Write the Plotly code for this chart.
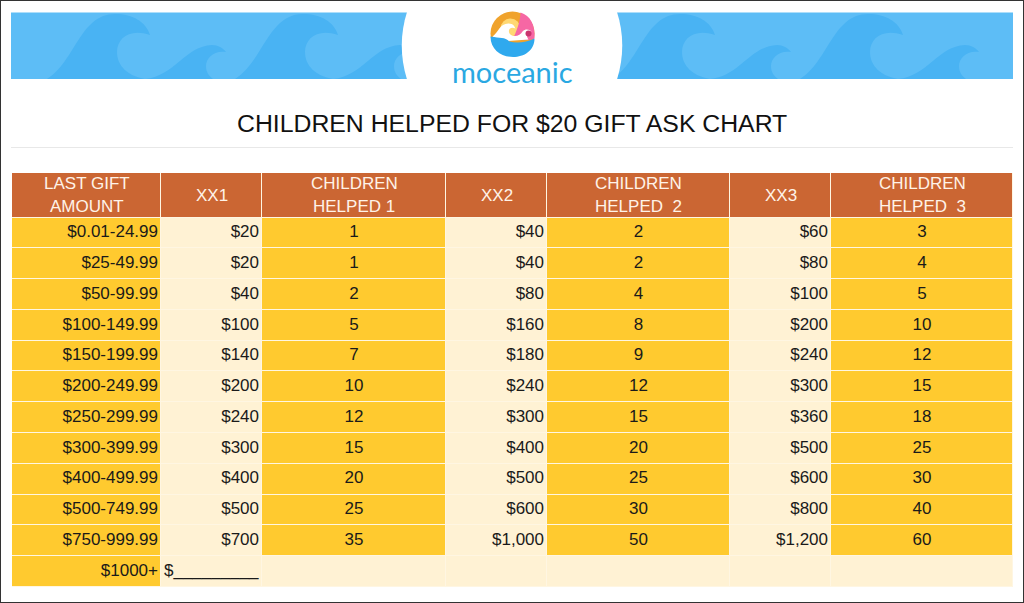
import plotly.graph_objects as go

W, H = 1024, 603

# ---- data ----
gift_amounts = ["$0.01-24.99", "$25-49.99", "$50-99.99", "$100-149.99", "$150-199.99", "$200-249.99",
                "$250-299.99", "$300-399.99", "$400-499.99", "$500-749.99", "$750-999.99", "$1000+"]
xx1 = ["$20", "$20", "$40", "$100", "$140", "$200", "$240", "$300", "$400", "$500", "$700"]
helped1 = [1, 1, 2, 5, 7, 10, 12, 15, 20, 25, 35]
xx2 = ["$40", "$40", "$80", "$160", "$180", "$240", "$300", "$400", "$500", "$600", "$1,000"]
helped2 = [2, 2, 4, 8, 9, 12, 15, 20, 25, 30, 50]
xx3 = ["$60", "$80", "$100", "$200", "$240", "$300", "$360", "$500", "$600", "$800", "$1,200"]
helped3 = [3, 4, 5, 10, 12, 15, 18, 25, 30, 40, 60]
write_in = "$_________"
headers = ["LAST GIFT<br>AMOUNT", "XX1", "CHILDREN<br>HELPED 1", "XX2", "CHILDREN<br>HELPED  2", "XX3", "CHILDREN<br>HELPED  3"]
title_text = "CHILDREN HELPED FOR $20 GIFT ASK CHART"
brand = "moceanic"

# ---- style / layout ----
FONT = "Liberation Sans"
GOLD, CREAM, RUST = "#FFCA2F", "#FFF2D4", "#CB6633"
SKY, SKY_DARK = "#5DBDF6", "#49B3F3"
col_edges = [12, 161, 262, 446, 547, 730, 831, 1013]
table_top, header_bottom, table_bottom = 173, 217.5, 587
n_rows = len(gift_amounts)
row_h = (table_bottom - header_bottom) / n_rows
row_edges = [table_top] + [header_bottom + i * row_h for i in range(n_rows + 1)]
row_mid = [header_bottom + (i + 0.5) * row_h for i in range(n_rows)]
TEXT_DY = 0


def px(x):
    return x / W


def py(y):
    return 1 - y / H


def path(cmds):
    out = []
    for c in cmds:
        out.append(c[0] + " ".join(f"{px(c[i])},{py(c[i + 1])}" for i in range(1, len(c), 2)))
    return " ".join(out) + " Z"


def shape(cmds, fill):
    return dict(type="path", xref="paper", yref="paper", path=path(cmds), fillcolor=fill, line_width=0)


def big_wave(o):
    return [("M", 47 + o, 79), ("C", 75 + o, 62, 80 + o, 14, 115 + o, 14), ("C", 133 + o, 14, 146 + o, 22, 150 + o, 35),
            ("C", 130 + o, 28, 117 + o, 38, 117 + o, 52), ("C", 117 + o, 66, 128 + o, 76, 145 + o, 79)]


def small_wave(o):
    return [("M", 145 + o, 79), ("C", 175 + o, 76, 185 + o, 46, 212 + o, 45), ("C", 218 + o, 45, 223 + o, 48, 226 + o, 52),
            ("C", 214 + o, 50, 206 + o, 58, 206 + o, 66), ("C", 206 + o, 72, 209 + o, 76, 213 + o, 79)]


shapes = [dict(type="rect", xref="paper", yref="paper", x0=px(11), x1=px(1013), y0=py(79), y1=py(12.5),
               fillcolor=SKY, line_width=0)]
for o in (0, 188, 565, 753):
    shapes.append(shape(big_wave(o), SKY_DARK))
    shapes.append(shape(small_wave(o), SKY_DARK))
# white centre with curved sides
shapes.append(shape([("M", 407, 12), ("L", 617, 12), ("C", 624, 34, 624, 57, 617, 79.5), ("L", 407, 79.5),
                     ("C", 400, 57, 400, 34, 407, 12)], "white"))
# logo
cx, cy, r = 512.5, 33.5, 22
shapes.append(dict(type="circle", xref="paper", yref="paper", x0=px(cx - r), x1=px(cx + r), y0=py(cy + r), y1=py(cy - r),
                   fillcolor="#F0A32C", line_width=0))
shapes.append(dict(type="circle", xref="paper", yref="paper", x0=px(cx - 12), x1=px(cx + 8), y0=py(cy + 5), y1=py(cy - 15),
                   fillcolor="#FFD873", line_width=0))
shapes.append(shape([("M", cx + 1, cy + 4), ("C", cx + 6, cy - 6, cx + 8, cy - 16, cx + 8, cy - 21),
                     ("C", cx + 18, cy - 18, cx + 23, cy - 8, cx + 22, cy + 5), ("C", cx + 14, cy + 8, cx + 6, cy + 6, cx + 1, cy + 4)], "#F667A4"))
shapes.append(shape([("M", cx - 20, cy + 3), ("C", cx - 14, cy - 1, cx - 13, cy - 10, cx - 4, cy - 10), ("C", cx + 1, cy - 10, cx + 2, cy - 7, cx + 3, cy - 5),
                     ("C", cx - 2, cy - 7, cx - 5, cy - 4, cx - 3, cy), ("C", cx + 1, cy + 5, cx + 8, cy + 2, cx + 10, cy - 2),
                     ("C", cx + 13, cy - 5, cx + 17, cy - 4, cx + 19, cy - 2), ("C", cx + 15, cy - 2, cx + 13, cy + 2, cx + 16, cy + 6),
                     ("L", cx - 10, cy + 8)], "white"))
shapes.append(shape([("M", cx - r, cy + 3), ("C", cx - 12, cy + 5, cx - 8, cy + 3, cx - 3, cy + 8), ("C", cx + 4, cy + 10, cx + 14, cy + 9, cx + r, cy + 5),
                     ("C", cx + r, cy + 30, cx - r, cy + 30, cx - r, cy + 3)], "#2FA9EE"))
shapes.append(dict(type="circle", xref="paper", yref="paper", x0=px(cx + 13), x1=px(cx + 19), y0=py(cy + 3), y1=py(cy - 3),
                   fillcolor="#C9346E", line_width=0))
# title rule and window frame
shapes.append(dict(type="line", xref="paper", yref="paper", x0=px(11), x1=px(1013), y0=py(147.5), y1=py(147.5),
                   line=dict(color="#E8E8E8", width=1)))
shapes.append(dict(type="rect", xref="paper", yref="paper", x0=0, x1=1, y0=0, y1=1,
                   line=dict(color="#333333", width=2), fillcolor="rgba(0,0,0,0)"))
# grid-line colour showing through heatmap gaps
shapes.append(dict(type="rect", layer="below", xref="x", yref="y", x0=col_edges[0], x1=col_edges[-1],
                   y0=table_top, y1=table_bottom, fillcolor="#FFF6E2", line_width=0))

# cell colour codes: 0 gold, 1 cream, 2 rust
z = [[2] * 7]
for i in range(n_rows):
    last = i == n_rows - 1
    z.append([0] + [1 if (c % 2 == 1 or last) else 0 for c in range(1, 7)])

fig = go.Figure()
fig.add_trace(go.Heatmap(
    x=col_edges, y=row_edges, z=z, zmin=0, zmax=2, showscale=False, xgap=1, ygap=1, hoverinfo="skip",
    colorscale=[[0, GOLD], [0.33, GOLD], [0.33, CREAM], [0.66, CREAM], [0.66, RUST], [1, RUST]],
))


def text_col(xs, ys, texts, pos):
    fig.add_trace(go.Scatter(x=xs, y=ys, text=texts, mode="text", textposition=pos, hoverinfo="skip",
                             showlegend=False, cliponaxis=False,
                             textfont=dict(family=FONT, size=17, color="#1A1A1A")))


RIGHT_INSET = 3
for c, col in enumerate([gift_amounts, xx1, helped1, xx2, helped2, xx3, helped3]):
    col = [str(v) for v in col]
    ys = [m + TEXT_DY for m in row_mid[:len(col)]]
    if c % 2 == 1 or c == 0:
        text_col([col_edges[c + 1] - RIGHT_INSET] * len(col), ys, col, "middle left")
    else:
        text_col([(col_edges[c] + col_edges[c + 1]) / 2] * len(col), ys, col, "middle center")
text_col([col_edges[1] + 3], [row_mid[-1] + TEXT_DY], [write_in], "middle right")

annotations = [
    dict(text=title_text, xref="paper", yref="paper", x=px(512), y=py(124), showarrow=False,
         font=dict(family=FONT, size=24.8, color="#111111"), xanchor="center", yanchor="middle"),
    dict(text=brand, xref="paper", yref="paper", x=px(512), y=py(71), showarrow=False,
         font=dict(family="Lato", size=29, color="#2AA8E2"), xanchor="center", yanchor="middle"),
]
header_mid = (table_top + header_bottom) / 2
for c, h in enumerate(headers):
    lines = h.split("<br>")
    x_mid = (col_edges[c] + col_edges[c + 1]) / 2
    for j, line in enumerate(lines):
        y = header_mid + (j - (len(lines) - 1) / 2) * 23
        annotations.append(dict(text=line.replace("  ", "\u00a0\u00a0"), xref="x", yref="y", x=x_mid, y=y, showarrow=False,
                                xanchor="center", yanchor="middle",
                                font=dict(family=FONT, size=17, color="#FFF3E8")))

fig.update_layout(
    width=W, height=H, margin=dict(l=0, r=0, t=0, b=0), paper_bgcolor="white", plot_bgcolor="white",
    shapes=shapes, annotations=annotations, showlegend=False,
    xaxis=dict(range=[0, W], visible=False, fixedrange=True),
    yaxis=dict(range=[H, 0], visible=False, fixedrange=True),
)
fig.write_html("out.html", config=dict(displayModeBar=False),
               post_script="document.body.style.margin='0';document.body.style.overflow='hidden';")
